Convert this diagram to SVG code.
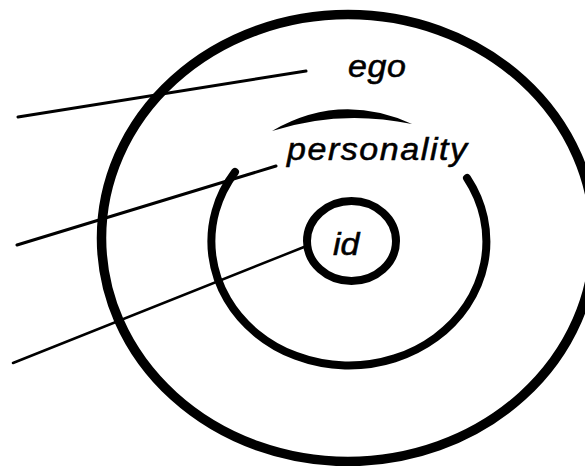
<svg xmlns="http://www.w3.org/2000/svg" width="585" height="466" viewBox="0 0 585 466">
  <style>
    .ring { fill: none; stroke: #000; }
    .lead { fill: none; stroke: #000; stroke-linecap: round; }
    .lbl { font-family: "Liberation Sans", Arial, sans-serif; font-style: italic; fill: #000; stroke: #000; stroke-width: 0.6px; font-size: 34px; }
  </style>
  <rect width="585" height="466" fill="#fff"/>
  <g id="ego">
    <ellipse class="ring" cx="348" cy="238" rx="246.5" ry="223.5" stroke-width="9.5"/>
    <text class="lbl" transform="translate(348 77) scale(1 0.9)" x="0" y="0" textLength="58" lengthAdjust="spacing">ego</text>
  </g>
  <g id="personality">
    <path class="ring" d="M 235 172 A 137.5 124 0 1 0 467 178" stroke-width="8" stroke-linecap="round"/>
    <path d="M 272 131 Q 340 91.5 412 124 Q 340 109 272 131 Z" fill="#000"/>
    <text class="lbl" transform="translate(287 160) scale(1 0.9)" x="0" y="0" textLength="180" lengthAdjust="spacing">personality</text>
  </g>
  <g id="id">
    <ellipse class="ring" cx="351.5" cy="241" rx="44.5" ry="40" stroke-width="8"/>
    <text class="lbl" transform="translate(333 255) scale(1 0.9)" x="0" y="0" font-size="38">id</text>
  </g>
  <g id="connectors">
    <line class="lead" x1="18" y1="117" x2="306" y2="71" stroke-width="3"/>
    <line class="lead" x1="17" y1="245" x2="276" y2="166" stroke-width="3"/>
    <line class="lead" x1="13" y1="363" x2="304" y2="247" stroke-width="2.5"/>
  </g>
</svg>
